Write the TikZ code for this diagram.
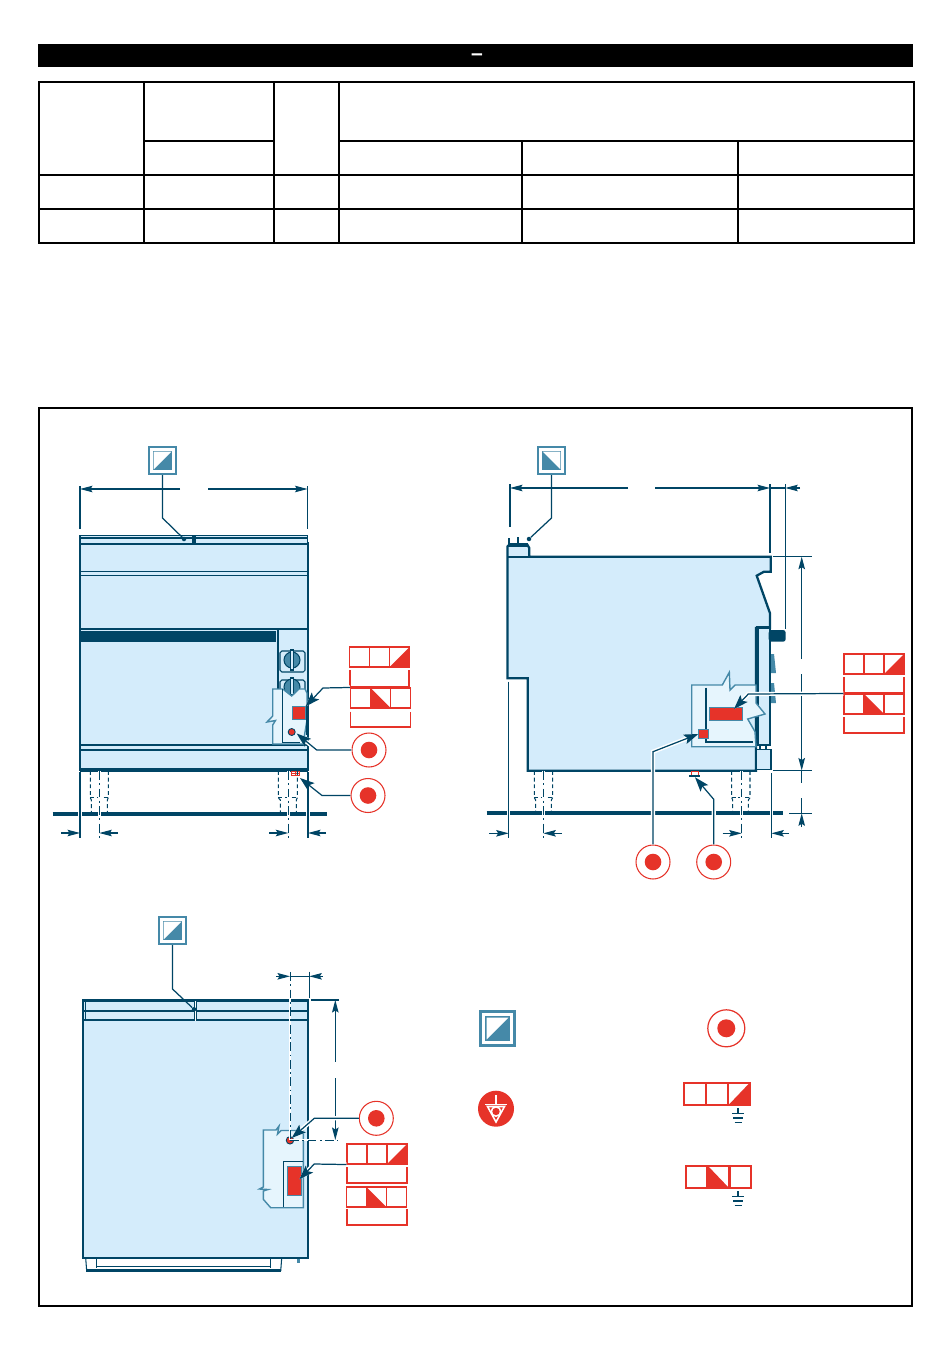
\documentclass[tikz,border=0pt]{standalone}
\usepackage{fontspec}
\setmainfont{Liberation Sans}
\usetikzlibrary{calc}
\usetikzlibrary{arrows.meta}
\definecolor{navy}{HTML}{004565}
\definecolor{bodyblue}{HTML}{D4ECFB}
\definecolor{cutblue}{HTML}{E6F5FD}
\definecolor{symteal}{HTML}{4589A8}
\definecolor{symred}{HTML}{E63329}
\tikzset{
	tablestyle/.style={black,line width=1.1pt},
	titlestyle/.style={text=white,font=\fontsize{12}{12}\bfseries\selectfont,inner sep=0pt},
	heavystyle/.style={navy,line width=1.3pt},
	bodystyle/.style={draw=navy,line width=1.3pt,fill=bodyblue},
	thinstyle/.style={navy,line width=0.6pt},
	onetipstyle/.style={navy,line width=0.6pt,->},
	wallstyle/.style={navy,line width=0.6pt,preaction={draw=white,line width=2pt}},
	dashstyle/.style={navy,line width=0.6pt,dash pattern=on 2.2pt off 1.6pt},
	centerstyle/.style={navy,line width=0.5pt,dash pattern=on 5pt off 2pt on 1pt off 2pt,preaction={draw=white,line width=1.6pt}},
	floorstyle/.style={navy,line width=2pt},
	cutstyle/.style={draw=symteal,line width=0.8pt,fill=cutblue},
	leaderstyle/.style={navy,line width=0.7pt,-{Stealth[length=0.29cm,width=0.2cm,inset=0.06cm]}},
	halostyle/.style={leaderstyle,preaction={draw=white,line width=2.4pt}},
	symlinestyle/.style={navy,line width=0.7pt},
	dotstyle/.style={circle,fill=navy,inner sep=0pt,minimum size=0.09cm},
	redboxstyle/.style={rectangle,draw=symteal,line width=0.6pt,fill=symred,inner sep=0pt},
	reddotstyle/.style={circle,draw=navy,line width=0.5pt,fill=symred,inner sep=0pt,minimum size=0.14cm},
	cellstyle/.style={rectangle,draw=symred,line width=0.6pt,fill=white,inner sep=0pt,minimum width=0.4cm,minimum height=0.4cm},
	bigcellstyle/.style={cellstyle,line width=1.2pt,minimum width=0.43cm,minimum height=0.45cm},
	riseup/.style={path picture={\fill[symred] (path picture bounding box.south west) -- (path picture bounding box.south east) -- (path picture bounding box.north east) -- cycle;}},
	falldown/.style={path picture={\fill[symred] (path picture bounding box.north west) -- (path picture bounding box.south west) -- (path picture bounding box.south east) -- cycle;}},
	bracketstyle/.style={symred,line width=0.6pt},
	targetstyle/.style={circle,draw=symred,line width=0.6pt,fill=white,inner sep=0pt,minimum size=0.68cm,path picture={\fill[symred] (path picture bounding box.center) circle (0.166cm);}},
	bigtargetstyle/.style={circle,draw=symred,line width=0.7pt,fill=white,inner sep=0pt,minimum size=0.74cm,path picture={\fill[symred] (path picture bounding box.center) circle (0.18cm);}},
	squareup/.style={rectangle,draw=symteal,line width=#1*0.42pt,fill=white,inner sep=0pt,minimum size=#1*0.186cm,path picture={
		\fill[symteal] ($(path picture bounding box.north west)+(#1*1.3,#1*1.3)$) rectangle ($(path picture bounding box.south east)+(-#1*1.3,-#1*1.3)$);
		\fill[white] ($(path picture bounding box.north west)+(#1*1.6,#1*1.6)$) -- ($(path picture bounding box.north east)+(-#1*1.6,#1*1.6)$) -- ($(path picture bounding box.south west)+(#1*1.6,-#1*1.6)$) -- cycle;}},
	squaredown/.style={rectangle,draw=symteal,line width=#1*0.42pt,fill=white,inner sep=0pt,minimum size=#1*0.186cm,path picture={
		\fill[symteal] ($(path picture bounding box.north west)+(#1*1.3,#1*1.3)$) rectangle ($(path picture bounding box.south east)+(-#1*1.3,-#1*1.3)$);
		\fill[white] ($(path picture bounding box.north west)+(#1*1.6,#1*1.6)$) -- ($(path picture bounding box.north east)+(-#1*1.6,#1*1.6)$) -- ($(path picture bounding box.south east)+(-#1*1.6,-#1*1.6)$) -- cycle;}},
	bondstyle/.style={circle,fill=symred,inner sep=0pt,minimum size=0.72cm}
}

\begin{document}
\begin{tikzpicture}[x=0.02cm,y=-0.02cm,>={Stealth[length=0.25cm,width=0.13cm,inset=0.04cm]}]
	\useasboundingbox (0,0) rectangle (950,1354);
	\fill[white] (0,0) rectangle (950,1354);
	\fill[black] (38,44) rectangle (913,67);
	\node[titlestyle] (titledash) at (477,57) {–};
	\draw[tablestyle] (39,82) rectangle (914,243);
	\draw[tablestyle] (144,141) -- (274,141);
	\draw[tablestyle] (339,141) -- (914,141);
	\draw[tablestyle] (39,175) -- (914,175);
	\draw[tablestyle] (39,209) -- (914,209);
	\draw[tablestyle] (144,82) -- (144,243);
	\draw[tablestyle] (274,82) -- (274,243);
	\draw[tablestyle] (339,82) -- (339,243);
	\draw[tablestyle] (522,141) -- (522,243);
	\draw[tablestyle] (738,141) -- (738,243);
	\draw[black,line width=1.1pt] (39,408) rectangle (912,1306);

	\draw[bodystyle] (80,543.5) rectangle (308,770);
	\draw[thinstyle,fill=bodyblue] (80,543) -- (80,535.5) -- (193,535.5) -- (193,543);
	\draw[thinstyle,fill=bodyblue] (195,543) -- (195,535.5) -- (307.5,535.5) -- (307.5,543);
	\draw[thinstyle] (80,538) -- (193,538);
	\draw[thinstyle] (195,538) -- (307.5,538);
	\draw[thinstyle] (80,571.5) -- (308,571.5);
	\draw[thinstyle] (80,575.5) -- (308,575.5);
	\draw[heavystyle] (80,629) -- (308,629);
	\fill[navy] (80,631) rectangle (276,642);
	\draw[heavystyle,line width=0.9pt] (278,629) -- (278,745);
	\draw[heavystyle] (80,745) -- (308,745);
	\draw[heavystyle] (80,750) -- (308,750);
	\draw[heavystyle,line width=1.9pt] (80,770) -- (308,770);
	\draw[thinstyle,rounded corners=1pt] (280,651) rectangle (305,672);
	\draw[thinstyle,fill=symteal] (292,660) circle (8);
	\draw[thinstyle,fill=bodyblue] (290.5,650) rectangle (293.5,670);
	\draw[thinstyle,rounded corners=1pt] (280,680) rectangle (305,700);
	\draw[thinstyle,fill=symteal] (292,687) circle (8);
	\draw[thinstyle,fill=bodyblue] (290.5,678) rectangle (293.5,695);
	\filldraw[cutstyle] (272.7,689) -- (282.7,689) -- (291.7,696) -- (299,689) -- (305,689) -- (307,693) -- (307,720) -- (303,744) -- (272.7,744) -- (272.7,725) -- (275.5,720.5) -- (267,722) -- (272.7,716) -- cycle;
	\draw[cutstyle,draw=navy] (282.7,689) -- (282.7,742.5) -- (300,742.5);
	\draw[heavystyle] (307.5,706) -- (307.5,735);
	\node[redboxstyle,minimum width=0.25cm,minimum height=0.25cm] (fpanel) at (299,713) {};
	\node[reddotstyle] (fvalve) at (291.7,732) {};
	\draw[symred,line width=0.5pt,fill=white] (291,771) rectangle (299,775);
	\draw[symred,line width=0.5pt] (291,773) -- (299,773);
	\draw[symred,line width=0.5pt] (295,771) -- (295,775);

	\draw[dashstyle] (90.3,771) -- (90.3,797.7) -- (91.3,800) -- (91.3,813);
	\draw[dashstyle] (108.3,771) -- (108.3,797.7) -- (107.3,800) -- (107.3,813);
	\draw[dashstyle] (90.3,797.7) -- (108.3,797.7);
	\draw[dashstyle] (278.3,771) -- (278.3,797.7) -- (280.3,800) -- (280.3,813);
	\draw[dashstyle] (297.3,771) -- (297.3,797.7) -- (296.3,800) -- (296.3,813);
	\draw[dashstyle] (278.3,797.7) -- (297.3,797.7);
	\draw[floorstyle] (52.7,814) -- (327,814);
	\draw[centerstyle] (99.3,771) -- (99.3,838);
	\draw[centerstyle] (288.3,771) -- (288.3,838);
	\draw[wallstyle] (80,772) -- (80,838);
	\draw[wallstyle] (308,772) -- (308,838);
	\draw[thinstyle] (80,486) -- (80,529);
	\draw[thinstyle] (307.5,486) -- (307.5,529);
	\draw[onetipstyle] (180,489) -- (80,489);
	\draw[onetipstyle] (208,489) -- (307.5,489);
	\draw[onetipstyle] (61,833) -- (80,833);
	\draw[onetipstyle] (118,833) -- (99.3,833);
	\draw[onetipstyle] (269,833) -- (288.3,833);
	\draw[onetipstyle] (326,833) -- (308,833);

	\node[squareup=2.9] (fsym) at (162.5,460.5) {};
	\coordinate (fsymbend) at (162.5,518);
	\node[dotstyle] (fsymdot) at (184,539) {};
	\draw[symlinestyle] (fsym.south) -- (fsymbend) -- (fsymdot);

	\node[cellstyle] (fcellA) at (359.5,657) {};
	\node[cellstyle] (fcellB) at (379.5,657) {};
	\node[cellstyle,riseup] (fcellC) at (399.5,657) {};
	\draw[bracketstyle] (350,670) -- (350,686.5) -- (409,686.5) -- (409,670);
	\node[cellstyle] (fcellD) at (360.5,698) {};
	\node[cellstyle,falldown] (fcellE) at (380.5,698) {};
	\node[cellstyle] (fcellF) at (400.5,698) {};
	\draw[bracketstyle] (350.5,711.5) -- (350.5,727) -- (410.5,727) -- (410.5,711.5);
	\node[targetstyle] (ftargetA) at (369,750) {};
	\node[targetstyle] (ftargetB) at (368,795.5) {};
	\coordinate (fbendA) at (323,688);
	\coordinate (ftipA) at (305.5,706.5);
	\coordinate (fbendB) at (316.7,750);
	\coordinate (ftipB) at (296.7,733.5);
	\coordinate (fbendC) at (322,795.5);
	\coordinate (ftipC) at (300,778);
	\draw[halostyle] (fcellD.north west) -- (fbendA) -- (ftipA);
	\draw[halostyle] (ftargetA) -- (fbendB) -- (ftipB);
	\draw[leaderstyle] (ftargetB) -- (fbendC) -- (ftipC);

	\filldraw[bodystyle] (507.5,556.7) -- (507.5,546.5) -- (509,545) -- (527.5,545) -- (529.3,548) -- (529.3,556.7) -- (770.7,556.7) -- (770.7,571.7) -- (764,571.7) -- (756.7,575.7) -- (770,613.3) -- (770,628) -- (756,628) -- (756,770.7) -- (527.7,770.7) -- (527.7,678.3) -- (507.5,678.3) -- cycle;
	\draw[heavystyle] (507.5,556.7) -- (529.3,556.7);
	\draw[heavystyle,line width=1.9pt] (509,545) -- (527.5,545);
	\draw[heavystyle,line width=0.8pt] (509,545) -- (509,538);
	\draw[heavystyle,line width=0.8pt] (518,545) -- (518,537);
	\fill[symteal] (771,654) -- (774,654) -- (776,673) -- (771,673) -- cycle;
	\fill[symteal] (771,683) -- (774,683) -- (776,703) -- (771,703) -- cycle;
	\draw[bodystyle] (757,627.5) rectangle (770,745);
	\draw[heavystyle,line width=1.9pt] (757,627.5) -- (757,745);
	\draw[thinstyle,fill=white] (760,745) rectangle (766,749.5);
	\draw[bodystyle,line width=1.1pt] (756,749.5) rectangle (770.7,769.5);
	\fill[navy,rounded corners=1.5pt] (768.7,630) rectangle (785.7,641.7);
	\filldraw[cutstyle] (691.7,685) -- (722.3,685) -- (729.3,672.3) -- (730,690) -- (735,685) -- (756,685) -- (756,703) -- (765,714) -- (747.7,719) -- (755,731.7) -- (756,746.7) -- (691.7,746.7) -- cycle;
	\draw[heavystyle] (705.7,687.7) -- (705.7,742.3) -- (753.3,742.3);
	\node[redboxstyle,minimum width=0.66cm,minimum height=0.25cm] (spanel) at (725.8,713.8) {};
	\node[redboxstyle,minimum width=0.21cm,minimum height=0.18cm] (svalve) at (703.6,733.8) {};
	\draw[symred,line width=0.5pt,fill=white] (691,771.5) rectangle (698,775);
	\draw[thinstyle,line width=0.8pt] (689,775.8) -- (700,775.8);

	\draw[dashstyle] (534.3,771) -- (534.3,797.7) -- (535.7,800) -- (535.7,813);
	\draw[dashstyle] (552.7,771) -- (552.7,797.7) -- (551.3,800) -- (551.3,813);
	\draw[dashstyle] (534.3,797.7) -- (552.7,797.7);
	\draw[dashstyle] (731.7,771) -- (731.7,797.7) -- (732.7,800) -- (732.7,813);
	\draw[dashstyle] (750,771) -- (750,797.7) -- (748.3,800) -- (748.3,813);
	\draw[dashstyle] (731.7,797.7) -- (750,797.7);
	\draw[floorstyle] (486.7,813) -- (783,813);
	\draw[centerstyle] (543.3,771) -- (543.3,838);
	\draw[centerstyle] (741.7,771) -- (741.7,838);
	\draw[wallstyle] (508.7,681.7) -- (508.7,838);
	\draw[wallstyle] (771.3,773) -- (771.3,838);
	\draw[thinstyle] (510,484) -- (510,527);
	\draw[thinstyle] (770,484) -- (770,553);
	\draw[thinstyle] (785.3,484) -- (785.3,629);
	\draw[onetipstyle] (628,488) -- (510,488);
	\draw[onetipstyle] (655,488) -- (770,488);
	\draw[thinstyle] (770,488) -- (785.3,488);
	\draw[onetipstyle] (800,488) -- (785.3,488);
	\draw[thinstyle] (773,556.7) -- (811.7,556.7);
	\draw[thinstyle] (773,770.5) -- (811.7,770.5);
	\draw[thinstyle] (789,813.3) -- (811.7,813.3);
	\draw[onetipstyle] (801.7,659) -- (801.7,556.7);
	\draw[onetipstyle] (801.7,674) -- (801.7,770.5);
	\draw[thinstyle] (801.7,770.5) -- (801.7,783);
	\draw[thinstyle] (801.7,798) -- (801.7,813.3);
	\draw[onetipstyle] (801.7,827) -- (801.7,813.3);
	\draw[onetipstyle] (489.3,833.3) -- (508.7,833.3);
	\draw[onetipstyle] (561.7,833.3) -- (543.3,833.3);
	\draw[onetipstyle] (722.7,833.3) -- (741.7,833.3);
	\draw[onetipstyle] (789,833.3) -- (771.3,833.3);

	\node[squaredown=2.9] (ssym) at (551.5,460.5) {};
	\coordinate (ssymbend) at (551.5,518);
	\node[dotstyle] (ssymdot) at (529,539) {};
	\draw[symlinestyle] (ssym.south) -- (ssymbend) -- (ssymdot);

	\node[cellstyle] (scellA) at (854,664) {};
	\node[cellstyle] (scellB) at (874,664) {};
	\node[cellstyle,riseup] (scellC) at (894,664) {};
	\draw[bracketstyle] (844,677) -- (844,693) -- (904,693) -- (904,677);
	\node[cellstyle] (scellD) at (854,704) {};
	\node[cellstyle,falldown] (scellE) at (874,704) {};
	\node[cellstyle] (scellF) at (894,704) {};
	\draw[bracketstyle] (844,717) -- (844,733) -- (904,733) -- (904,717);
	\node[targetstyle] (stargetA) at (653,862) {};
	\node[targetstyle] (stargetB) at (713.7,862) {};
	\coordinate (sbendA) at (748.3,694);
	\coordinate (stipA) at (734,709);
	\coordinate (sbendB) at (653,751.7);
	\coordinate (stipB) at (698.3,734);
	\coordinate (sbendC) at (713.7,799.3);
	\coordinate (stipC) at (695,777.3);
	\draw[halostyle] (scellD.north west) -- (sbendA) -- (stipA);
	\draw[halostyle] (stargetA) -- (sbendB) -- (stipB);
	\draw[halostyle] (stargetB) -- (sbendC) -- (stipC);

	\draw[bodystyle,line width=1.2pt] (83.3,1000) rectangle (308.3,1257.7);
	\draw[heavystyle,line width=1.7pt] (83.3,1000) -- (308.3,1000);
	\draw[heavystyle,line width=1pt] (84,1010.7) -- (308,1010.7);
	\draw[thinstyle] (84,1020) -- (308,1020);
	\draw[white,line width=0.8pt] (195.5,1001) -- (195.5,1020.5);
	\draw[thinstyle,line width=0.3pt] (194.7,1002) -- (194.7,1020);
	\draw[thinstyle,line width=0.3pt] (196.3,1002) -- (196.3,1020);
	\draw[thinstyle,line width=0.3pt] (85,1001) -- (85,1020);
	\draw[thinstyle,line width=0.3pt] (307,1001) -- (307,1020);
	\draw[thinstyle] (85.7,1258) -- (86.7,1271);
	\draw[thinstyle] (96.7,1258) -- (96.7,1268);
	\draw[thinstyle] (270.7,1258) -- (270.7,1268);
	\draw[thinstyle] (281.7,1258) -- (280.7,1271);
	\draw[thinstyle] (96.7,1266.7) -- (270.7,1266.7);
	\draw[floorstyle,line width=1.9pt] (86,1270.7) -- (281,1270.7);
	\fill[symteal] (296.7,1258.5) rectangle (300,1263);
	\filldraw[cutstyle] (263.3,1130) -- (276,1130) -- (279,1126) -- (277.5,1134) -- (281,1130.5) -- (303.3,1130.5) -- (303.3,1207.7) -- (270.7,1207.7) -- (263.3,1199.3) -- (263.3,1191) -- (268,1189.5) -- (259.5,1189) -- (263.3,1187) -- cycle;
	\draw[thinstyle] (283.3,1206.7) -- (283.3,1161.7) -- (303.3,1161.7);
	\node[redboxstyle,minimum width=0.29cm,minimum height=0.57cm] (bpanel) at (294.5,1181) {};
	\node[reddotstyle,minimum size=0.15cm] (bvalve) at (290,1140.3) {};

	\draw[centerstyle] (290,972) -- (290,1140);
	\draw[centerstyle] (290,1140) -- (338,1140);
	\draw[thinstyle] (309.3,971.7) -- (309.3,997.7);
	\draw[thinstyle] (290,976.3) -- (309.3,976.3);
	\draw[onetipstyle] (276,976.3) -- (290,976.3);
	\draw[onetipstyle] (322.7,976.3) -- (309.3,976.3);
	\draw[thinstyle] (310.7,1000) -- (338.7,1000);
	\draw[onetipstyle] (335.3,1061.7) -- (335.3,1000);
	\draw[onetipstyle] (335.3,1078.3) -- (335.3,1140);

	\node[squareup=2.9] (bsym) at (172.5,930.5) {};
	\coordinate (bsymbend) at (172.5,989);
	\node[dotstyle] (bsymdot) at (194,1009.3) {};
	\draw[symlinestyle] (bsym.south) -- (bsymbend) -- (bsymdot);

	\node[cellstyle] (bcellA) at (357,1154) {};
	\node[cellstyle] (bcellB) at (377,1154) {};
	\node[cellstyle,riseup] (bcellC) at (397,1154) {};
	\draw[bracketstyle] (347,1167) -- (347,1183) -- (407,1183) -- (407,1167);
	\node[cellstyle] (bcellD) at (356.5,1197) {};
	\node[cellstyle,falldown] (bcellE) at (376.5,1197) {};
	\node[cellstyle] (bcellF) at (396.5,1197) {};
	\draw[bracketstyle] (347,1209) -- (347,1225) -- (407,1225) -- (407,1209);
	\node[targetstyle] (btarget) at (376.3,1118.3) {};
	\coordinate (bbendA) at (314.3,1118.3);
	\coordinate (btipA) at (291.7,1138);
	\coordinate (bbendB) at (314.3,1164);
	\coordinate (btipB) at (299.3,1179.3);
	\draw[halostyle] (btarget) -- (bbendA) -- (btipA);
	\draw[halostyle] (bcellA.south west) -- (bbendB) -- (btipB);

	\node[squareup=3.6] (keysquare) at (497.5,1028.5) {};
	\node[bigtargetstyle] (keytarget) at (726.3,1028.3) {};
	\node[bondstyle] (keybond) at (496,1108.7) {};
	\draw[white,line width=0.7pt] (496,1095) -- (496,1105);
	\draw[white,line width=0.9pt,line join=miter] (487.5,1106.5) -- (504.5,1106.5) -- (496,1122) -- cycle;
	\draw[white,line width=0.8pt] (485,1104.5) -- (507,1104.5);
	\fill[white] (496,1111.5) circle (5.5);
	\fill[symred] (496,1111.5) circle (3.7);
	\node[bigcellstyle] (keycellA) at (695,1094) {};
	\node[bigcellstyle] (keycellB) at (717,1094) {};
	\node[bigcellstyle,riseup] (keycellC) at (739,1094) {};
	\node[bigcellstyle] (keycellD) at (696.5,1177) {};
	\node[bigcellstyle,falldown] (keycellE) at (718.5,1177) {};
	\node[bigcellstyle] (keycellF) at (740.5,1177) {};
	\draw[symlinestyle] (738,1108) -- (738,1113);
	\draw[symlinestyle] (732,1113.5) -- (744,1113.5);
	\draw[symlinestyle] (733,1118) -- (743,1118);
	\draw[symlinestyle] (734.5,1122.5) -- (741.5,1122.5);
	\draw[symlinestyle] (738,1191) -- (738,1196);
	\draw[symlinestyle] (732,1196.5) -- (744,1196.5);
	\draw[symlinestyle] (733,1201) -- (743,1201);
	\draw[symlinestyle] (734.5,1205.5) -- (741.5,1205.5);
\end{tikzpicture}
\end{document}
